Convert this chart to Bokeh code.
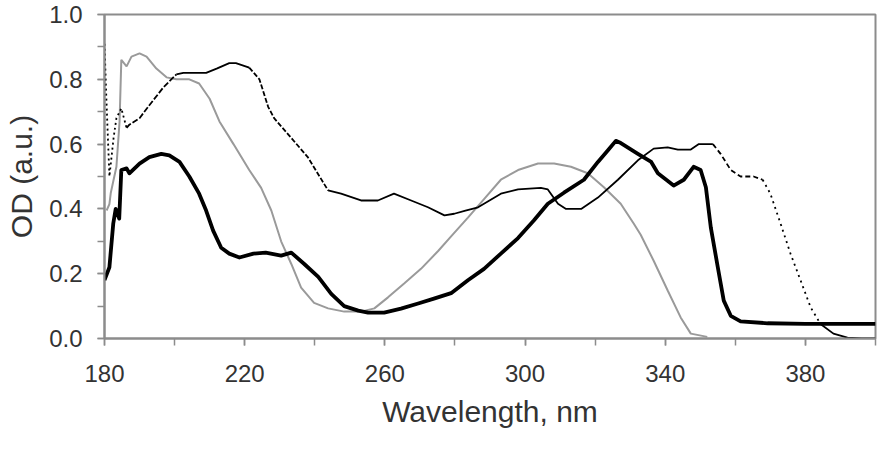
import numpy as np
from bokeh.plotting import figure
from bokeh.models import FixedTicker, PrintfTickFormatter, Range1d
from bokeh.embed import file_html
from bokeh.resources import INLINE

# Absorption spectra: optical density vs wavelength (nm)
thick_wl = [180, 181.4, 182.5, 183.2, 184.2, 184.8, 186.3, 187.1, 190, 192.8, 196.2, 198.5,
            201.4, 204.2, 207, 209, 211, 213.3, 215.6, 218.5, 222.5, 226, 230.4, 233.3, 237,
            241, 244.7, 248.4, 252.4, 255.2, 259.8, 264.6, 269.5, 274, 278.9, 283.7, 288.3,
            293.1, 298, 302.5, 306.5, 311.1, 316.8, 320.8, 323.6, 325.9, 327, 332.2, 336,
            337.9, 342.4, 345.3, 348.1, 350.1, 351.6, 353, 355, 356.7, 358.7, 361.5, 369.2,
            380, 400]
thick_od = [0.18, 0.22, 0.355, 0.40, 0.37, 0.52, 0.525, 0.51, 0.54, 0.56, 0.57, 0.565,
            0.545, 0.50, 0.447, 0.395, 0.333, 0.28, 0.262, 0.25, 0.262, 0.265, 0.256, 0.265,
            0.23, 0.19, 0.138, 0.10, 0.086, 0.08, 0.08, 0.092, 0.108, 0.123, 0.14, 0.18, 0.215,
            0.262, 0.31, 0.364, 0.416, 0.45, 0.49, 0.545, 0.58, 0.61, 0.605, 0.57, 0.545,
            0.51, 0.472, 0.49, 0.53, 0.52, 0.467, 0.343, 0.22, 0.117, 0.07, 0.053, 0.047,
            0.045, 0.045]

gray_wl = [180.6, 181.4, 181.8, 183.4, 184.3, 184.8, 186.3, 187.7, 190, 192, 194.8, 197.7,
           200.5, 204.2, 207, 210, 212.8, 216.8, 221.3, 224.7, 227.6, 230.4, 233.3, 236.1,
           239.8, 243.8, 248.4, 253.2, 257, 260.9, 265.5, 270.3, 275.2, 278.9, 283.7, 288.3,
           293.1, 298, 303.7, 308.3, 313.1, 317.9, 322.5, 327.3, 331, 333, 336.7, 340.7,
           344.4, 347.3, 352]
gray_od = [0.395, 0.415, 0.45, 0.53, 0.67, 0.86, 0.84, 0.87, 0.88, 0.87, 0.833, 0.806,
           0.80, 0.80, 0.787, 0.74, 0.67, 0.60, 0.52, 0.465, 0.395, 0.30, 0.23, 0.157,
           0.11, 0.093, 0.083, 0.083, 0.093, 0.127, 0.17, 0.215, 0.27, 0.315, 0.373, 0.43,
           0.49, 0.52, 0.54, 0.54, 0.53, 0.51, 0.467, 0.416, 0.355, 0.32, 0.24, 0.148,
           0.065, 0.015, 0.005]

thin_wl = [180, 180.5, 181.4, 182.6, 183.4, 184.8, 186.3, 187.1, 190, 192.8, 196.8, 200.5,
           202.5, 209, 212, 215.6, 217.5, 221.3, 224.2, 226.7, 228.4, 232.4, 238, 243.8,
           247.5, 253.2, 258, 262.6, 267.5, 272.3, 277, 279.8, 283, 286.6, 293.1, 298,
           304.5, 306.5, 309.4, 311.7, 316, 320.8, 326.5, 332.2, 336.7, 340.7, 343.6, 347.3,
           349.6, 353.6, 355.8, 358.7, 361.5, 365.2, 367.8, 370, 372.9, 375.8, 378.6, 381.5,
           384.3, 388, 392, 396, 400]
thin_od = [0.91, 0.75, 0.50, 0.62, 0.68, 0.71, 0.65, 0.66, 0.68, 0.72, 0.775, 0.815,
           0.82, 0.82, 0.833, 0.85, 0.85, 0.836, 0.80, 0.715, 0.68, 0.63, 0.56, 0.457,
           0.447, 0.426, 0.426, 0.447, 0.426, 0.405, 0.38, 0.385, 0.395, 0.405, 0.447, 0.46,
           0.465, 0.46, 0.416, 0.40, 0.40, 0.435, 0.49, 0.55, 0.586, 0.59, 0.583, 0.583,
           0.60, 0.60, 0.57, 0.52, 0.50, 0.50, 0.49, 0.447, 0.355, 0.26, 0.18, 0.096,
           0.045, 0.015, 0.003, 0.0, 0.0]

x_label_ticks = [180, 220, 260, 300, 340, 380]
y_label_ticks = [0.0, 0.2, 0.4, 0.6, 0.8, 1.0]

FONT = "Liberation Sans"
AXIS_GRAY = "#8c8c8c"
TEXT = "#333333"

p = figure(width=888, height=449, output_backend="svg", toolbar_location=None,
           x_range=Range1d(180, 400), y_range=Range1d(0, 1.0))
p.min_border_left = 104
p.min_border_right = 13
p.min_border_top = 14
p.min_border_bottom = 111
p.background_fill_color = "white"
p.border_fill_color = "white"
p.outline_line_color = AXIS_GRAY
p.outline_line_width = 2
p.xgrid.visible = False
p.ygrid.visible = False

p.xaxis.ticker = FixedTicker(ticks=x_label_ticks, minor_ticks=list(range(180, 401, 20)))
p.yaxis.ticker = FixedTicker(ticks=y_label_ticks,
                             minor_ticks=[round(v * 0.1, 1) for v in range(11)])
p.yaxis.formatter = PrintfTickFormatter(format="%.1f")

for ax in (p.xaxis, p.yaxis):
    ax.axis_line_color = AXIS_GRAY
    ax.axis_line_width = 2
    ax.major_tick_line_color = AXIS_GRAY
    ax.minor_tick_line_color = AXIS_GRAY
    ax.major_tick_line_width = 1.5
    ax.minor_tick_line_width = 1.5
    ax.major_tick_in = 0
    ax.major_tick_out = 7
    ax.minor_tick_in = 0
    ax.minor_tick_out = 7
    ax.major_label_text_font = FONT
    ax.major_label_text_font_size = "24px"
    ax.major_label_text_color = TEXT
    ax.axis_label_text_font = FONT
    ax.axis_label_text_font_size = "30px"
    ax.axis_label_text_font_style = "normal"
    ax.axis_label_text_color = TEXT

p.xaxis.axis_label = "Wavelength, nm"
p.yaxis.axis_label = "OD (a.u.)"
p.xaxis.major_label_standoff = 19
p.xaxis.axis_label_standoff = 10
p.yaxis.major_label_standoff = 15
p.yaxis.axis_label_standoff = 8

# gray spectrum
p.line(gray_wl, gray_od, line_color="#9a9a9a", line_width=2)

# thin black spectrum, drawn in pieces (index ranges): dotted where sampling is sparse
tw = np.array(thin_wl)
to = np.array(thin_od)
pieces = [
    (0, 6, "2 3"),
    (6, 11, "6 2"),
    (11, 17, "solid"),
    (17, 23, "5 2"),
    (23, 49, "solid"),
    (49, 54, "5 3"),
    (54, 60, "2 4"),
    (60, len(tw) - 1, "solid"),
]
for i0, i1, dash in pieces:
    p.line(tw[i0:i1 + 1], to[i0:i1 + 1], line_color="black", line_width=1.8, line_dash=dash)

# thick black spectrum
p.line(thick_wl, thick_od, line_color="black", line_width=3.8, line_join="round")

open("out.html", "w").write(file_html(p, INLINE))
